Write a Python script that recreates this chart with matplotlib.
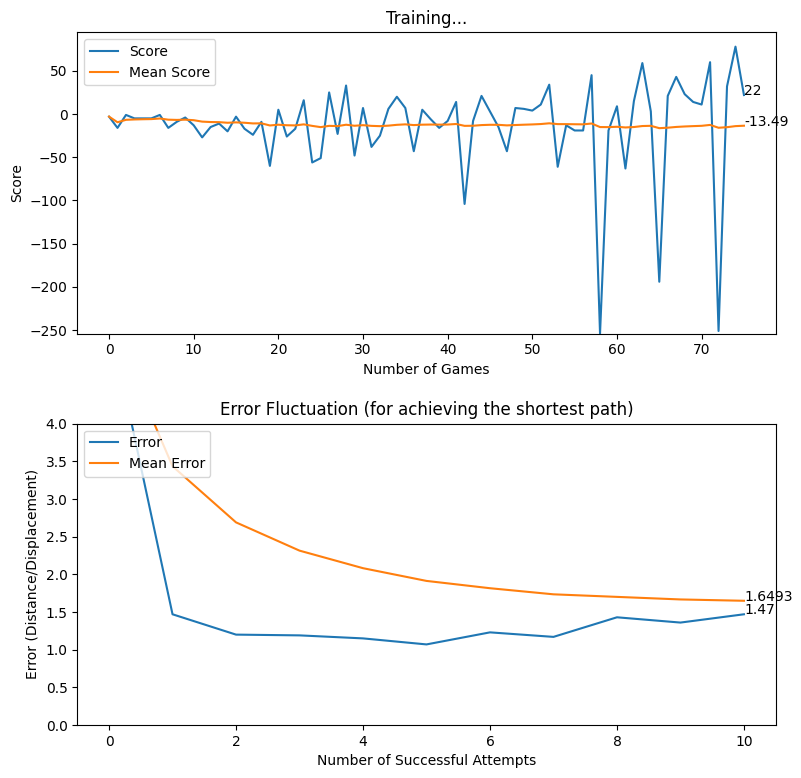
import matplotlib
matplotlib.use('Agg')
import matplotlib.pyplot as plt

# scores per game
scores = [-3, -16, -1, -5, -5, -5, -1, -16, -9, -4,
          -13, -27, -15, -11, -20, -3, -17, -24, -9, -60,
          5, -26, -17, 16, -56, -51, 25, -23, 33, -48,
          7, -38, -25, 6, 20, 7, -43, 5, -6, -16,
          -8, 14, -104, -8, 21, 3, -15, -43, 7, 6,
          4, 11, 34, -61, -13, -19, -19, 45, -254, -19,
          9, -63, 15, 59, 3, -194, 21, 43, 23, 14,
          11, 60, -251, 32, 78, 22]

mean_scores = [-3.0, -9.5, -6.67, -6.25, -6.0, -5.83, -5.14, -6.5, -6.78, -6.5,
               -7.09, -8.75, -9.23, -9.36, -10.07, -9.63, -10.06, -10.83, -10.74, -13.2,
               -12.33, -12.95, -13.13, -11.92, -13.68, -15.12, -13.63, -13.96, -12.34, -13.53,
               -12.87, -13.66, -14.0, -13.41, -12.46, -11.92, -12.76, -12.29, -12.13, -12.23,
               -12.12, -11.5, -13.65, -13.52, -12.76, -12.41, -12.47, -13.1, -12.69, -12.32,
               -12.0, -11.56, -10.7, -11.63, -11.65, -11.79, -11.91, -10.93, -15.05, -15.12,
               -14.72, -15.5, -15.02, -13.86, -13.6, -16.33, -15.78, -14.91, -14.36, -13.96,
               -13.61, -12.58, -15.85, -15.2, -13.96, -13.49]

# error per successful attempt
errors = [5.40, 1.47, 1.20, 1.19, 1.15, 1.07, 1.23, 1.17, 1.43, 1.36, 1.47]
mean_errors = [5.40, 3.435, 2.69, 2.315, 2.082, 1.913, 1.816, 1.735, 1.701, 1.667, 1.6493]

fig, (ax1, ax2) = plt.subplots(2, 1, figsize=(8.01, 7.78), dpi=100)
fig.subplots_adjust(left=0.0965, right=0.9684, top=0.9585, bottom=0.0681, hspace=0.299)

ax1.set_title('Training...')
ax1.set_xlabel('Number of Games')
ax1.set_ylabel('Score')
ax1.plot(scores, label='Score')
ax1.plot(mean_scores, label='Mean Score')
ax1.set_ylim(bottom=min(scores))
ax1.legend(loc='upper left')
ax1.text(len(scores) - 1, scores[-1], str(scores[-1]))
ax1.text(len(mean_scores) - 1, mean_scores[-1], '%.2f' % mean_scores[-1])

ax2.set_title('Error Fluctuation (for achieving the shortest path)')
ax2.set_xlabel('Number of Successful Attempts')
ax2.set_ylabel('Error (Distance/Displacement)')
ax2.plot(errors, label='Error')
ax2.plot(mean_errors, label='Mean Error')
ax2.set_ylim(0, 4)
ax2.legend(loc='upper left')
ax2.text(len(errors) - 1, errors[-1], str(errors[-1]))
ax2.text(len(mean_errors) - 1, mean_errors[-1], str(mean_errors[-1]))

fig.savefig('out.png', dpi=100)
